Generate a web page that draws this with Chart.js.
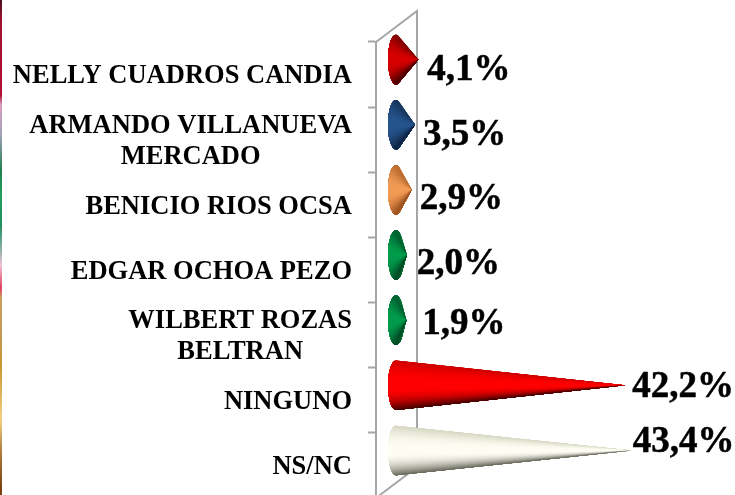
<!DOCTYPE html>
<html>
<head>
<meta charset="utf-8">
<script src="https://cdn.jsdelivr.net/npm/chart.js@4"></script>
<style>
html,body{margin:0;padding:0;background:#fff;overflow:hidden;width:735px;height:495px}
#wrap{position:relative;width:735px;height:495px;overflow:hidden}
canvas{display:block;position:absolute;left:0;top:0}
#strip{position:absolute;left:0;top:0;width:2px;height:495px;z-index:2;
background:linear-gradient(to bottom,#4a1020 0,#a01030 20px,#b01035 95px,#d8a0c0 105px,#a0a0b8 135px,#208050 170px,#20a060 195px,#209060 225px,#90b0a8 250px,#f0c0d8 265px,#e04060 288px,#c8a060 298px,#c09850 340px,#c89830 365px,#f0d080 420px,#b08040 450px,#7a4010 490px)}
</style>
</head>
<body>
<div id="wrap"><div id="strip"></div><canvas id="c" width="735" height="510"></canvas></div>
<script>
const categories = [
  ["NELLY CUADROS CANDIA"],
  ["ARMANDO VILLANUEVA","MERCADO"],
  ["BENICIO RIOS OCSA"],
  ["EDGAR OCHOA PEZO"],
  ["WILBERT ROZAS","BELTRAN"],
  ["NINGUNO"],
  ["NS/NC"]
];
const values = [4.1, 3.5, 2.9, 2.0, 1.9, 42.2, 43.4];
const coneColors = [
  [[130,0,0],[214,0,0],[80,0,0]],
  [[24,56,96],[38,84,140],[16,40,72]],
  [[190,110,50],[240,155,85],[160,85,35]],
  [[0,100,50],[0,155,75],[0,80,40]],
  [[0,100,50],[0,155,75],[0,80,40]],
  [[205,0,0],[255,0,0],[70,0,0]],
  [[215,215,195],[253,253,243],[110,110,98]]
];
const labelNudgeX = [9, 8, 8, 10, 16, 7, 1];
const labelNudgeY = [11, 11, 10, 9, 4, 2, -8];

const DEPTH_X = 20, DEPTH_Y = -15, BACK_X = 41, BACK_Y = -31, CAP_RX = 8;
const WALL = "#a6a6a6";

function shade(c, v) {
  const mid = v < 0 ? c[0] : c[2];
  let t = Math.min(1, Math.max(0, (Math.abs(v) - 0.1) / 0.9));
  t = t * t;
  return "rgb(" + [0, 1, 2].map(k => Math.round(c[1][k] + (mid[k] - c[1][k]) * t)).join(",") + ")";
}

const cone3d = {
  id: "cone3d",
  beforeDatasetsDraw(chart) {
    const ctx = chart.ctx, a = chart.chartArea;
    ctx.save();
    ctx.strokeStyle = WALL; ctx.lineWidth = 2;
    ctx.beginPath();
    ctx.moveTo(a.left, a.top); ctx.lineTo(a.left + BACK_X, a.top + BACK_Y);
    ctx.lineTo(a.left + BACK_X, a.bottom + BACK_Y); ctx.lineTo(a.left, a.bottom);
    ctx.stroke();
    ctx.restore();

    const bars = chart.getDatasetMeta(0).data;
    bars.forEach((bar, i) => {
      const x0 = bar.base + DEPTH_X, tip = bar.x + DEPTH_X, cy = bar.y + DEPTH_Y, r = bar.height / 2;
      const th = Math.acos(CAP_RX / (tip - x0));
      const steps = 80;
      const pt = k => {
        const ang = -th - (2 * Math.PI - 2 * th) * (k / steps);
        return [x0 + CAP_RX * Math.cos(ang), cy + r * Math.sin(ang)];
      };
      ctx.save();
      // each layer repaints everything from this slice on, so no seams show
      for (let k = 0; k < steps; k++) {
        ctx.fillStyle = shade(coneColors[i], (pt(k + 0.5)[1] - cy) / r);
        ctx.beginPath();
        ctx.moveTo(tip, cy);
        for (let m = k; m <= steps; m++) { const p = pt(m); ctx.lineTo(p[0], p[1]); }
        ctx.closePath();
        ctx.fill();
      }
      ctx.restore();

      ctx.save();
      ctx.font = "bold 37px 'Liberation Serif'";
      ctx.fillStyle = "#000";
      ctx.strokeStyle = "#000";
      ctx.lineWidth = 0.5;
      ctx.textAlign = "left";
      ctx.textBaseline = "middle";
      const txt = values[i].toFixed(1).replace(".", ",") + "%";
      ctx.fillText(txt, tip + labelNudgeX[i], cy + labelNudgeY[i]);
      ctx.strokeText(txt, tip + labelNudgeX[i], cy + labelNudgeY[i]);
      ctx.restore();
    });
    return false;
  },
  afterDraw(chart) {
    const ctx = chart.ctx, s = chart.scales.y;
    ctx.save();
    ctx.font = "bold 26.5px 'Liberation Serif'";
    ctx.fillStyle = "#000";
    ctx.textBaseline = "middle";
    ctx.textAlign = "center";
    categories.forEach((lines, i) => {
      const y = s.getPixelForTick(i);
      const w = Math.max(...lines.map(t => ctx.measureText(t).width));
      const cx = 352 - w / 2;
      lines.forEach((t, k) => ctx.fillText(t, cx, y + 2 + (k - (lines.length - 1) / 2) * 31));
    });
    ctx.restore();
  }
};

new Chart(document.getElementById("c"), {
  type: "bar",
  data: {
    labels: categories,
    datasets: [{ data: values, backgroundColor: coneColors.map(c => "rgb(" + c[1].join(",") + ")"), barPercentage: 0.76, categoryPercentage: 1 }]
  },
  options: {
    indexAxis: "y",
    responsive: false,
    animation: false,
    layout: { padding: { left: 368, top: 42, bottom: 12, right: 6 } },
    plugins: { legend: { display: false }, tooltip: { enabled: false } },
    scales: {
      x: { display: false, min: 0, max: 65 },
      y: {
        ticks: { display: false },
        border: { color: WALL, width: 2 },
        grid: { drawOnChartArea: false, color: WALL, tickLength: 8, tickWidth: 2, tickColor: WALL }
      }
    }
  },
  plugins: [cone3d]
});
</script>
</body>
</html>
